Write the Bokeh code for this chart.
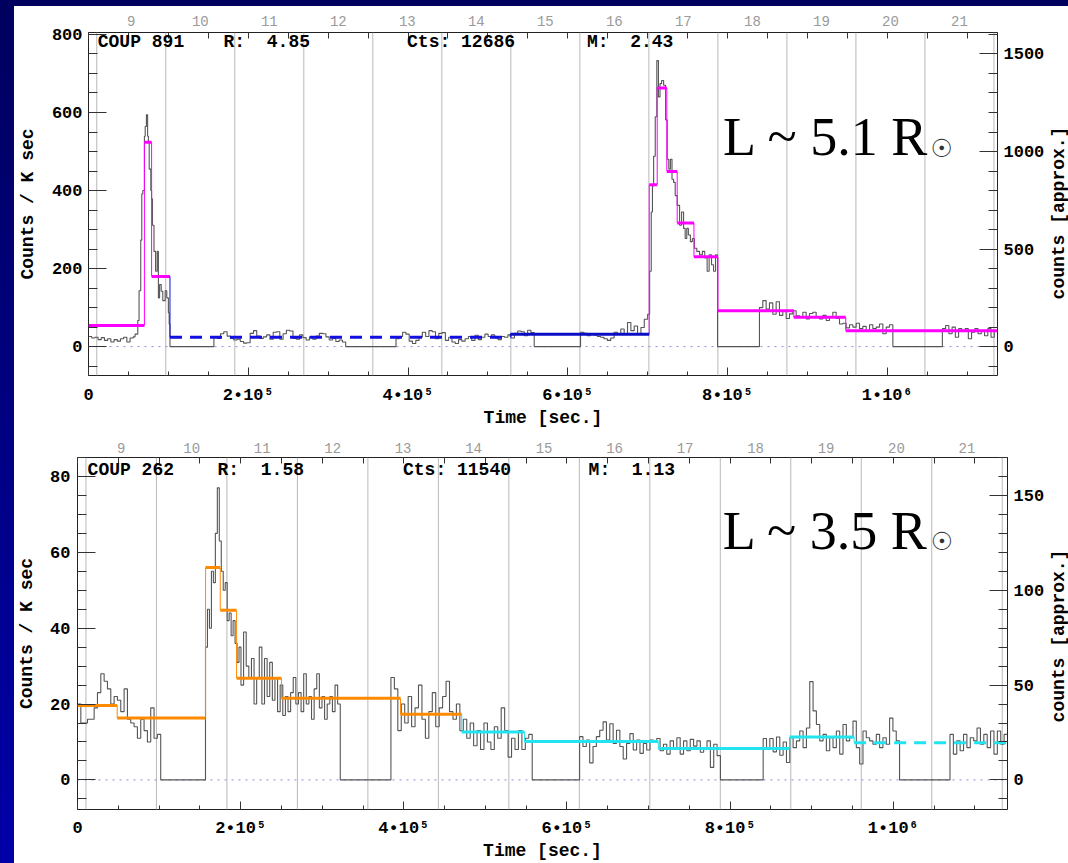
import math
import numpy as np
from bokeh.plotting import figure
from bokeh.models import (Range1d, LinearAxis, SingleIntervalTicker, FixedTicker,
                          Span, Label, Spacer, Div)
from bokeh.layouts import row, column
from bokeh.embed import file_html
from bokeh.resources import INLINE

# ------------------------------------------------------------------ data
DAY_NUMBERS = [9, 10, 11, 12, 13, 14, 15, 16, 17, 18, 19, 20, 21]
DAY_START = 10350          # s, start of day 9
DAY_LENGTH = 86400         # s
X_TICKS = [0, 200000, 400000, 600000, 800000, 1000000]
X_TICK_LABELS = ["0", "2\u202210\u2075", "4\u202210\u2075", "6\u202210\u2075",
                 "8\u202210\u2075", "1\u202210\u2076"]
X_MINOR_STEP = 50000
COUNTS_PER_RATE = 2.0      # right axis: counts per bin = 2 x rate

NB = "\u00a0"
TOP_HEADER = ["COUP" + NB + "891", "R:" + NB * 2 + "4.85", "Cts:" + NB + "12686",
              "M:" + NB * 2 + "2.43"]
BOT_HEADER = ["COUP" + NB + "262", "R:" + NB * 2 + "1.58", "Cts:" + NB + "11540",
              "M:" + NB * 2 + "1.13"]
TOP_SIZE_TEXT = "L ~ 5.1 R"
BOT_SIZE_TEXT = "L ~ 3.5 R"
SUN_SYMBOL = "\u2609"
LEFT_LABEL = "Counts / K sec"
RIGHT_LABEL = "counts [approx.]"
X_LABEL = "Time [sec.]"

# ---- COUP 891 light curve (counts / ks) ----
TOP_Q1_SPAN = [0, 56000]
TOP_Q1_RATE = [26, 22, 24, 18, 23, 16, 20, 12, 18, 14, 20, 24, 12, 22]
TOP_F1_TIME = [56000, 58300, 61700, 63300, 65400, 66700, 68000, 70000, 71000, 72500,
               74000, 75000, 76000, 78000, 79000, 80000, 82000, 84000, 86000, 87500,
               89000, 91000, 93000, 96000, 98000, 100000, 101000]
TOP_F1_END = 102000
TOP_F1_RATE = [25, 32, 67, 143, 273, 391, 400, 539, 564, 594, 539, 523, 455, 400, 379,
               311, 244, 193, 244, 125, 159, 142, 118, 143, 125, 87, 58]
TOP_Q2_SPAN = [157000, 322000]
TOP_Q2_RATE = [25, 21, 33, 38, 27, 21, 17, 19, 13, 9, 10, 34, 41, 27, 21, 25, 30, 19, 37, 38,
               19, 33, 42, 40, 21, 19, 30, 23, 17, 25, 19, 27, 34, 33, 25, 17, 21, 13, 17, 12]
TOP_Q3_SPAN = [385000, 558000]
TOP_Q3_RATE = [20, 26, 37, 32, 14, 8, 16, 24, 37, 26, 41, 38, 20, 34, 36, 16, 24, 12, 8, 18,
               14, 20, 26, 16, 29, 18, 24, 32, 26, 30, 22, 18, 26, 24, 30,
               22, 34, 40, 38, 28, 42, 36]
TOP_Q4_SPAN = [616000, 700000]
TOP_Q4_RATE = [37, 34, 28, 33, 30, 26, 24, 20, 16, 22, 37, 33, 45, 33, 62, 41, 53, 33, 49, 70]
TOP_F2_TIME = [700000, 702500, 704500, 706000, 707500, 709500, 711500, 713500, 715500, 717500,
               720000, 722500, 724500, 726500, 728500, 730500, 732500, 734500, 737000, 740000,
               742500, 745000, 747000, 749000, 751000, 753500, 756000, 758500, 761500, 765000,
               768500, 771500, 774500, 777000, 780000, 782500, 785000]
TOP_F2_END = 787500
TOP_F2_RATE = [83, 193, 345, 412, 488, 589, 733, 640, 674, 682, 670, 581, 480, 455, 480, 429,
               421, 387, 362, 311, 345, 303, 277, 303, 286, 269, 277, 252, 244, 235, 244, 227,
               193, 235, 210, 193, 235]
TOP_Q5_SPAN = [840000, 1007000]
TOP_Q5_RATE = [100, 118, 96, 112, 83, 115, 80, 92, 72, 84, 92, 79, 75, 88, 71, 85, 88, 77, 71, 80,
               67, 77, 88, 72, 58, 60, 48, 56, 50, 60, 46, 52, 40, 56, 46, 50, 58, 33, 50, 56]
TOP_Q6_SPAN = [1069000, 1138000]
TOP_Q6_RATE = [46, 54, 33, 50, 24, 46, 41, 46, 20, 37, 46, 33, 41, 28, 46, 24, 41]

# ---- COUP 891 Bayesian blocks ----
TOP_BLK_START = [0, 70000, 79000, 102000, 528000, 702000, 712000, 724000, 737000, 758000,
                 788000, 883000, 948000]
TOP_BLK_RATE = [54, 524, 180, 24, 32, 415, 663, 449, 317, 230, 92, 75, 41]
TOP_BLK_STATE = ["flare", "flare", "flare", "quiet_est", "quiet", "flare", "flare", "flare",
                 "flare", "flare", "flare", "flare", "flare"]

# ---- COUP 262 light curve (counts / ks) ----
BOT_Q1_SPAN = [0, 102000]
BOT_Q1_RATE = [20, 15, 15, 16, 16, 19, 23, 28, 26, 24, 20, 22, 21, 18, 24, 16, 15, 14, 11, 16,
               13, 10, 19, 11, 12]
BOT_F1_SPAN = [156900, 200400]
BOT_F1_RATE = [35, 45, 40, 55, 52, 65, 77, 63, 55, 50, 52, 42, 44, 38, 42, 36, 31, 35]
BOT_F2_SPAN = [200400, 322100]
BOT_F2_RATE = [25, 39, 30, 27, 32, 20, 27, 35, 20, 32, 22, 31, 21, 27, 18, 25, 17, 22, 18, 23,
               27, 20, 23, 18, 28, 20, 22, 16, 24, 28, 19, 22, 16, 20, 22, 18, 25, 20]
BOT_Q2_SPAN = [384200, 557400]
BOT_Q2_RATE = [27, 24, 13, 20, 15, 22, 14, 19, 25, 16, 11, 18, 23, 14, 19, 22, 26, 18, 16, 20,
               13, 16, 11, 15, 9, 13, 8, 15, 10, 8, 14, 11, 19, 13, 6, 11, 8, 13, 8, 11, 12]
BOT_Q3_SPAN = [615500, 788100]
BOT_Q3_RATE = [11.4, 8.8, 10.5, 4.5, 8.8, 11.4, 13.1, 15.3, 10.5, 14.8, 9.6, 13.1, 8.8, 5.5,
               9.6, 12.2, 7.9, 10.5, 7.0, 9.6, 7.9, 10.5, 10.1, 10.9, 7.7, 9.4, 6.8, 10.3, 8.5,
               11.1, 6.8, 10.3, 7.7, 10.7, 8.9, 10.3, 7.3, 8.5, 10.3, 3.3, 9.4, 6.4]
BOT_Q4_SPAN = [840500, 1007700]
BOT_Q4_RATE = [10.9, 8.3, 10.9, 7.4, 11.3, 6.5, 10.0, 4.6, 11.1, 8.5, 10.3, 12.9, 8.5, 13.7,
               25.9, 18.2, 14.6, 10.3, 12.0, 7.7, 11.1, 8.5, 12.9, 6.8, 14.6, 10.3, 11.1, 15.5,
               8.5, 4.2, 12.9, 11.1, 10.3, 9.4, 12.0, 8.5, 11.1, 9.4, 16.3, 12.9, 10.3]
BOT_Q5_SPAN = [1069500, 1140000]
BOT_Q5_RATE = [12.0, 6.8, 10.3, 7.7, 12.0, 8.5, 11.1, 10.3, 13.7, 9.4, 12.0, 8.5, 12.9, 6.8,
               12.9, 9.4, 12.0]

# ---- COUP 262 Bayesian blocks ----
BOT_BLK_START = [0, 48700, 157000, 175000, 195000, 250000, 396000, 471000, 548000, 712000,
                 873000, 952000]
BOT_BLK_RATE = [19.6, 16.3, 56.0, 44.7, 26.8, 21.5, 17.3, 12.6, 10.1, 8.3, 11.3, 9.8]
BOT_BLK_STATE = ["flare", "flare", "flare", "flare", "flare", "flare", "flare", "quiet",
                 "quiet", "quiet", "quiet", "quiet_est"]

# ------------------------------------------------------------------ styles
MONO = "Liberation Mono"
SERIF = "Liberation Serif"
NAVY_TOP = "#00005e"
CURVE = "#555555"
DAYLINE = "#b9b9b9"
ZERO = "#8c8cdc"
TOP_BLOCK_STYLE = {"flare": ("#ff00ff", "solid"), "quiet": ("#0b0bc8", "solid"),
                   "quiet_est": ("#1010e0", "12 8")}
BOT_BLOCK_STYLE = {"flare": ("#ff8a00", "solid"), "quiet": ("#22e3f0", "solid"),
                   "quiet_est": ("#22e3f0", "12 8")}
PLOT_W = 1033
LABEL_W = 21


def uniform(span, rates):
    edges = np.linspace(span[0], span[1], len(rates) + 1)
    return list(zip(edges[:-1], edges[1:], rates))


def explicit(times, end, rates):
    ends = list(times[1:]) + [end]
    return list(zip(times, ends, rates))


def light_curve(pieces):
    xs, ys = [], []
    prev_end = None
    for piece in pieces:
        for a, b, r in piece:
            if prev_end is not None and a > prev_end + 1:
                xs.append(prev_end)
                ys.append(0.0)
            xs.append(float(a))
            ys.append(float(r))
            prev_end = float(b)
    xs.append(prev_end)
    ys.append(ys[-1])
    return xs, ys


def to_day(t):
    return DAY_NUMBERS[0] - 0.5 + (t - DAY_START) / DAY_LENGTH


def style_axis(ax, tin, mtin, size="17px"):
    ax.major_tick_in = tin
    ax.major_tick_out = 0
    ax.minor_tick_in = mtin
    ax.minor_tick_out = 0
    ax.axis_line_color = None
    ax.major_tick_line_color = "#333333"
    ax.minor_tick_line_color = "#333333"
    ax.major_label_text_font = MONO
    ax.major_label_text_font_style = "bold"
    ax.major_label_text_font_size = size
    ax.major_label_text_color = "black"
    ax.axis_label_text_font = MONO
    ax.axis_label_text_font_style = "bold"
    ax.axis_label_text_font_size = "18px"
    ax.axis_label_text_color = "black"


def make_panel(cfg):
    x_end = cfg["x_end"]
    y0, y1 = cfg["y"]
    p = figure(width=PLOT_W, height=cfg["height"], x_range=Range1d(0, x_end),
               y_range=Range1d(y0, y1), toolbar_location=None, output_backend="svg",
               min_border_left=cfg["borders"][0], min_border_right=cfg["borders"][1],
               min_border_top=cfg["borders"][2], min_border_bottom=cfg["borders"][3],
               background_fill_color="white", border_fill_color="white",
               outline_line_color="#222222", outline_line_width=1)
    p.xgrid.visible = False
    p.ygrid.visible = False

    # bottom axis
    xb = p.xaxis[0]
    xb.ticker = SingleIntervalTicker(interval=X_TICKS[1], num_minor_ticks=4)
    xb.major_label_overrides = {t: lab for t, lab in zip(X_TICKS, X_TICK_LABELS)}
    xb.axis_label = X_LABEL
    style_axis(xb, 8, 4)
    xb.major_label_standoff = cfg["xb_standoff"]
    xb.axis_label_standoff = 0

    # left axis
    yl = p.yaxis[0]
    yl.ticker = SingleIntervalTicker(interval=cfg["yl_int"], num_minor_ticks=4)
    yl.axis_label = LEFT_LABEL
    style_axis(yl, 18, 9)
    yl.major_label_standoff = cfg["yl_standoff"][0]
    yl.axis_label_standoff = cfg["yl_standoff"][1]

    # right axis (counts); its title sits in a narrow block to the right
    p.extra_y_ranges = {"counts": Range1d(y0 * COUNTS_PER_RATE, y1 * COUNTS_PER_RATE)}
    yr = LinearAxis(y_range_name="counts",
                    ticker=SingleIntervalTicker(interval=cfg["yr_int"], num_minor_ticks=5))
    style_axis(yr, 18, 9)
    yr.major_label_standoff = cfg["yr_standoff"]
    p.add_layout(yr, "right")

    # top: mirrored tick marks (no labels), then day labels
    minor_top = [k * X_MINOR_STEP for k in range(int(x_end // X_MINOR_STEP) + 1)]
    xt = LinearAxis(ticker=FixedTicker(ticks=[], minor_ticks=minor_top))
    style_axis(xt, 6, 6)
    xt.major_label_standoff = 0
    p.add_layout(xt, "above")
    p.extra_x_ranges = {"days": Range1d(to_day(0), to_day(x_end))}
    xd = LinearAxis(x_range_name="days", ticker=FixedTicker(ticks=DAY_NUMBERS))
    xd.major_tick_line_color = None
    xd.minor_tick_line_color = None
    xd.axis_line_color = None
    xd.major_tick_out = 0
    xd.major_tick_in = 0
    xd.major_label_text_font = MONO
    xd.major_label_text_font_size = "14px"
    xd.major_label_text_color = "#9a9a9a"
    xd.major_label_standoff = cfg["day_standoff"]
    p.add_layout(xd, "above")

    # day boundaries and zero line
    for k in range(len(DAY_NUMBERS) + 1):
        t = DAY_START + k * DAY_LENGTH
        if 0 < t < x_end:
            p.add_layout(Span(location=t, dimension="height", line_color=DAYLINE,
                              line_width=1, level="underlay"))
    p.add_layout(Span(location=0, dimension="width", line_color=ZERO, line_width=1,
                      line_dash="2 5", level="underlay"))

    # light curve
    xs, ys = light_curve(cfg["pieces"])
    p.step(x=xs, y=ys, mode="after", line_color=CURVE, line_width=1.1)

    # blocks
    starts = cfg["blk_start"]
    rates = cfg["blk_rate"]
    states = cfg["blk_state"]
    ends = list(starts[1:]) + [x_end]
    for state, (col, dash) in cfg["blk_style"].items():
        idx = [i for i, s in enumerate(states) if s == state]
        if not idx:
            continue
        conn = [i for i in idx if i > 0]
        if conn:
            p.segment(x0=[starts[i] for i in conn], y0=[rates[i - 1] for i in conn],
                      x1=[starts[i] for i in conn], y1=[rates[i] for i in conn],
                      line_color=col, line_width=1)
        p.segment(x0=[starts[i] for i in idx], y0=[rates[i] for i in idx],
                  x1=[ends[i] for i in idx], y1=[rates[i] for i in idx],
                  line_color=col, line_width=3, line_dash=dash)

    # header texts
    for txt, hx in zip(cfg["header"], cfg["header_x"]):
        p.add_layout(Label(x=hx, y=cfg["header_y"], text=txt, text_font=MONO,
                           text_font_style="bold", text_font_size="18px",
                           text_baseline="middle", text_align="left", text_color="black"))
    # size annotation
    sx, sy = cfg["size_pos"]
    p.add_layout(Label(x=sx, y=sy, text=cfg["size_text"], text_font=SERIF,
                       text_font_size="54px", text_baseline="alphabetic",
                       text_align="left", text_color="black"))
    ux, uy = cfg["sun_pos"]
    p.add_layout(Label(x=ux, y=uy, text=SUN_SYMBOL, text_font="DejaVu Sans",
                       text_font_size="25px", text_baseline="alphabetic",
                       text_align="left", text_color="#333333"))

    # right-hand title, reading upward
    html = ('<div style="position:relative;width:%dpx;height:%dpx;">'
            '<span style="position:absolute;left:12px;top:%dpx;'
            'transform:translate(-50%%,-50%%) rotate(-90deg);white-space:nowrap;'
            'font-family:\'%s\';font-weight:bold;font-size:18px;line-height:20px;'
            'color:black;">%s</span></div>'
            % (LABEL_W, cfg["height"], cfg["title_center"], MONO, RIGHT_LABEL))
    title = Div(text=html, width=LABEL_W, height=cfg["height"], margin=(0, 0, 0, 0),
                styles={"background-color": "white", "overflow": "visible"})
    return row(p, title)


top_cfg = dict(
    x_end=1138000, y=(-74, 805), height=424, borders=(73, 50, 26, 51),
    xb_standoff=10, yl_int=200, yl_standoff=(6, 11), yr_int=500, yr_standoff=6,
    day_standoff=7, title_center=207,
    pieces=[uniform(TOP_Q1_SPAN, TOP_Q1_RATE),
            explicit(TOP_F1_TIME, TOP_F1_END, TOP_F1_RATE),
            uniform(TOP_Q2_SPAN, TOP_Q2_RATE),
            uniform(TOP_Q3_SPAN, TOP_Q3_RATE),
            uniform(TOP_Q4_SPAN, TOP_Q4_RATE),
            explicit(TOP_F2_TIME, TOP_F2_END, TOP_F2_RATE),
            uniform(TOP_Q5_SPAN, TOP_Q5_RATE),
            uniform(TOP_Q6_SPAN, TOP_Q6_RATE)],
    blk_start=TOP_BLK_START, blk_rate=TOP_BLK_RATE, blk_state=TOP_BLK_STATE,
    blk_style=TOP_BLOCK_STYLE,
    header=TOP_HEADER, header_x=[11600, 169100, 398800, 624100], header_y=781,
    size_text=TOP_SIZE_TEXT, size_pos=(794400, 537), sun_pos=(1054000, 508),
)

bot_cfg = dict(
    x_end=1140000, y=(-7.8, 85), height=433, borders=(63, 40, 27, 50),
    xb_standoff=9, yl_int=20, yl_standoff=(7, 10), yr_int=50, yr_standoff=6,
    day_standoff=5, title_center=206,
    pieces=[uniform(BOT_Q1_SPAN, BOT_Q1_RATE),
            uniform(BOT_F1_SPAN, BOT_F1_RATE),
            uniform(BOT_F2_SPAN, BOT_F2_RATE),
            uniform(BOT_Q2_SPAN, BOT_Q2_RATE),
            uniform(BOT_Q3_SPAN, BOT_Q3_RATE),
            uniform(BOT_Q4_SPAN, BOT_Q4_RATE),
            uniform(BOT_Q5_SPAN, BOT_Q5_RATE)],
    blk_start=BOT_BLK_START, blk_rate=BOT_BLK_RATE, blk_state=BOT_BLK_STATE,
    blk_style=BOT_BLOCK_STYLE,
    header=BOT_HEADER, header_x=[12400, 171700, 399000, 626500], header_y=81.7,
    size_text=BOT_SIZE_TEXT, size_pos=(790800, 65.6), sun_pos=(1045800, 62.9),
)

panel1 = make_panel(top_cfg)
panel2 = make_panel(bot_cfg)

left_strip = Spacer(width=14, height=863, margin=(0, 0, 0, 0),
                    styles={"background": "linear-gradient(180deg, #00005e 0%, #0000a8 100%)"})
top_strip = Spacer(width=PLOT_W + LABEL_W, height=6, margin=(0, 0, 0, 0),
                   styles={"background": NAVY_TOP})

layout = row(left_strip, column(top_strip, panel1, panel2))

with open("out.html", "w", encoding="utf-8") as f:
    f.write(file_html(layout, INLINE, title="COUP light curves"))
